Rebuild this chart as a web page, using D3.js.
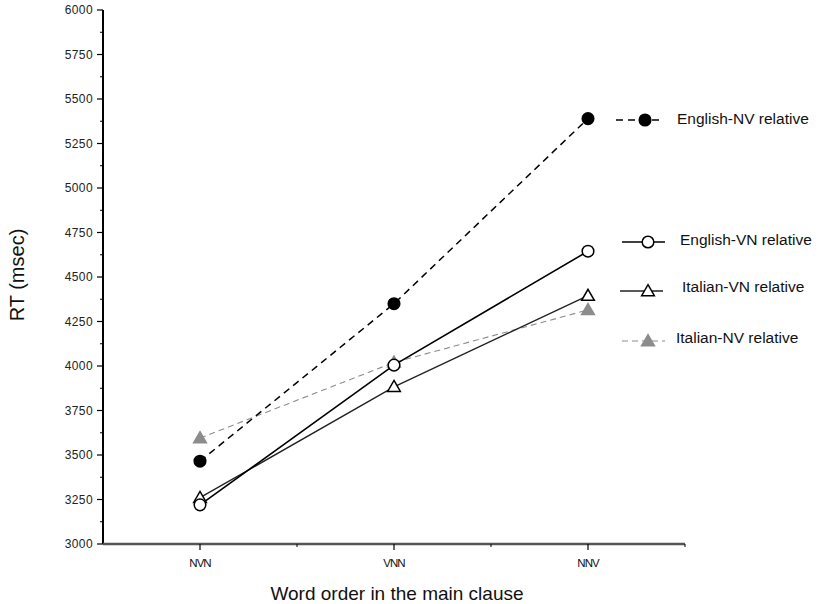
<!DOCTYPE html>
<html>
<head>
<meta charset="utf-8">
<script src="https://cdn.jsdelivr.net/npm/d3@7"></script>
<style>
  html, body { margin: 0; padding: 0; background: #fff; }
  svg { display: block; font-family: "Liberation Sans", Arial, sans-serif; }
</style>
</head>
<body>
<svg id="chart" width="822" height="604"></svg>
<script>
// Word orders on the x axis
const categories = ["NVN", "VNN", "NNV"];

// Mean reaction times (msec) per condition
const englishNV = [3465, 4350, 5390];
const englishVN = [3220, 4005, 4645];
const italianVN = [3260, 3883, 4395];
const italianNV = [3595, 4020, 4315];

// Y axis ticks
const yMajorTicks = [3000, 3250, 3500, 3750, 4000, 4250, 4500, 4750, 5000, 5250, 5500, 5750, 6000];
const yMinorTicks = d3.range(3125, 6000, 250);

const seriesNames = ["English-NV relative", "English-VN relative", "Italian-VN relative", "Italian-NV relative"];

const svg = d3.select("#chart");
const plotLeft = 103, plotRight = 685, plotTop = 10, plotBottom = 544;

const x = d3.scaleBand().domain(categories).range([plotLeft, plotRight]);
const y = d3.scaleLinear().domain([3000, 6000]).range([plotBottom, plotTop]);
const cx = d => x(d) + x.bandwidth() / 2;

// Series styling
const series = [
  { name: seriesNames[3], values: italianNV, stroke: "#8c8c8c", width: 1.1, dash: "6,4", marker: "triangle", fill: "#8c8c8c", mstroke: "#8c8c8c" },
  { name: seriesNames[2], values: italianVN, stroke: "#222", width: 1.4, dash: null, marker: "triangle", fill: "#fff", mstroke: "#000" },
  { name: seriesNames[1], values: englishVN, stroke: "#000", width: 1.6, dash: null, marker: "circle", fill: "#fff", mstroke: "#000" },
  { name: seriesNames[0], values: englishNV, stroke: "#000", width: 1.5, dash: "7,5", marker: "circle", fill: "#000", mstroke: "#000" }
];

// Axes
const gy = svg.append("g");
gy.append("line").attr("x1", plotLeft).attr("x2", plotLeft).attr("y1", plotTop).attr("y2", plotBottom)
  .attr("stroke", "#000").attr("stroke-width", 2);
gy.selectAll("line.major").data(yMajorTicks).join("line").attr("class", "major")
  .attr("x1", plotLeft - 6).attr("x2", plotLeft).attr("y1", d => y(d)).attr("y2", d => y(d))
  .attr("stroke", "#000").attr("stroke-width", 1.2);
gy.selectAll("line.minor").data(yMinorTicks).join("line").attr("class", "minor")
  .attr("x1", plotLeft - 3).attr("x2", plotLeft).attr("y1", d => y(d)).attr("y2", d => y(d))
  .attr("stroke", "#000").attr("stroke-width", 1);
gy.selectAll("text").data(yMajorTicks).join("text")
  .attr("x", plotLeft - 10).attr("y", d => y(d)).attr("dy", "0.35em")
  .attr("text-anchor", "end").attr("font-size", 12).attr("letter-spacing", "0.4")
  .attr("fill", "#222").text(d => d);

const gx = svg.append("g");
gx.append("line").attr("x1", plotLeft).attr("x2", plotRight).attr("y1", plotBottom).attr("y2", plotBottom)
  .attr("stroke", "#555").attr("stroke-width", 2.5);
gx.selectAll("line.major").data(categories).join("line").attr("class", "major")
  .attr("x1", d => cx(d)).attr("x2", d => cx(d)).attr("y1", plotBottom).attr("y2", plotBottom + 6)
  .attr("stroke", "#000").attr("stroke-width", 1.2);
gx.selectAll("line.minor").data(categories.slice(1)).join("line").attr("class", "minor")
  .attr("x1", d => x(d)).attr("x2", d => x(d)).attr("y1", plotBottom).attr("y2", plotBottom + 3)
  .attr("stroke", "#000").attr("stroke-width", 1);
gx.append("line").attr("x1", plotRight).attr("x2", plotRight).attr("y1", plotBottom).attr("y2", plotBottom + 3)
  .attr("stroke", "#000").attr("stroke-width", 1);
gx.selectAll("text").data(categories).join("text")
  .attr("x", d => cx(d)).attr("y", plotBottom + 23)
  .attr("text-anchor", "middle").attr("font-size", 11.5).attr("fill", "#111")
  .attr("letter-spacing", "-1").text(d => d);

// Axis titles
svg.append("text").attr("x", 397).attr("y", 600).attr("text-anchor", "middle")
  .attr("font-size", 19).attr("fill", "#111").text("Word order in the main clause");
svg.append("text").attr("transform", "translate(24,275) rotate(-90)").attr("text-anchor", "middle")
  .attr("font-size", 20).attr("fill", "#111").text("RT (msec)");

function drawMarker(g, s, px, py) {
  if (s.marker === "circle") {
    g.append("circle").attr("cx", px).attr("cy", py).attr("r", 5.8)
      .attr("fill", s.fill).attr("stroke", s.mstroke).attr("stroke-width", 1.5);
  } else {
    g.append("path").attr("d", d3.symbol().type(d3.symbolTriangle).size(70)())
      .attr("transform", `translate(${px},${py + 1})`)
      .attr("fill", s.fill).attr("stroke", s.mstroke).attr("stroke-width", 1.5);
  }
}

// Lines and markers
const line = d3.line().x((d, i) => cx(categories[i])).y(d => y(d));
const gs = svg.append("g");
series.forEach(s => {
  gs.append("path").datum(s.values).attr("d", line).attr("fill", "none")
    .attr("stroke", s.stroke).attr("stroke-width", s.width)
    .attr("stroke-dasharray", s.dash);
});
series.forEach(s => {
  s.values.forEach((v, i) => drawMarker(gs, s, cx(categories[i]), y(v)));
});

// Legend
const legend = [
  { s: series[3], y: 120, x1: 616, x2: 663, mx: 645, tx: 677, ty: 119 },
  { s: series[2], y: 242, x1: 622, x2: 665, mx: 648, tx: 680, ty: 240 },
  { s: series[1], y: 291, x1: 620, x2: 663, mx: 648, tx: 682, ty: 287 },
  { s: series[0], y: 341, x1: 622, x2: 665, mx: 648, tx: 676, ty: 338 }
];
const gl = svg.append("g");
legend.forEach(l => {
  gl.append("line").attr("x1", l.x1).attr("x2", l.x2).attr("y1", l.y).attr("y2", l.y)
    .attr("stroke", l.s.stroke).attr("stroke-width", l.s.width)
    .attr("stroke-dasharray", l.s.dash);
  drawMarker(gl, l.s, l.mx, l.y);
  gl.append("text").attr("x", l.tx).attr("y", l.ty).attr("dy", "0.35em")
    .attr("font-size", 15.5).attr("fill", "#111").text(l.s.name);
});
</script>
</body>
</html>
